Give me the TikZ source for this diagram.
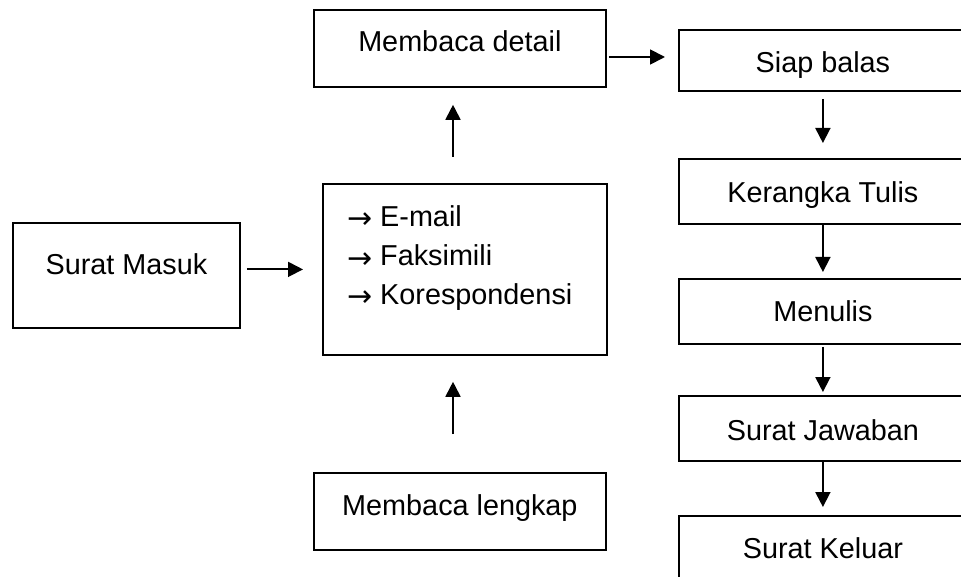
\documentclass[tikz,border=0pt]{standalone}
\usepackage{fontspec}
\setmainfont{Liberation Sans}
\newfontfamily\arrowfont{DejaVu Sans}
\usetikzlibrary{arrows.meta,calc}

% list marker: arrow glyph in a fixed-width slot
\newcommand{\bulletarrow}{\makebox[33pt][l]{\raisebox{-2pt}{\arrowfont\fontsize{30}{39}\selectfont →}}}

\tikzset{
  box/.style={draw=black, line width=1.8pt, rectangle, inner sep=0pt, anchor=north west},
  txt/.style={inner sep=0pt, anchor=base, font=\fontsize{28.8}{39}\selectfont},
  ltxt/.style={txt, anchor=base west},
  arr/.style={draw=black, line width=1.8pt, -{Triangle[length=15pt,width=15pt]}}
}

\begin{document}
\begin{tikzpicture}[x=1pt, y=-1pt]
  \clip (0,0) rectangle (961,577);
  \fill[white] (0,0) rectangle (961,577);

  % left and middle column
  \node[box, minimum width=227pt, minimum height=105pt] (masuk)   at (12,222) {};
  \node[box, minimum width=284pt, minimum height=171pt] (mid)     at (322,183) {};
  \node[box, minimum width=292pt, minimum height=77pt]  (detail)  at (313,9) {};
  \node[box, minimum width=292pt, minimum height=77pt]  (lengkap) at (313,472) {};

  \node[txt] at ([yshift=-53pt]masuk.north)   {Surat Masuk};
  \node[txt] at ([yshift=-43pt]detail.north)  {Membaca detail};
  \node[txt] at ([yshift=-43pt]lengkap.north) {Membaca lengkap};
  \node[ltxt] (l1) at (347,227) {\bulletarrow E-mail};
  \node[ltxt] (l2) at (347,266) {\bulletarrow Faksimili};
  \node[ltxt] (l3) at (347,305) {\bulletarrow Korespondensi};

  % right column
  \node[box, minimum width=288pt, minimum height=61pt] (siap)    at (678,29) {};
  \node[box, minimum width=288pt, minimum height=65pt] (kerangka) at (678,158) {};
  \node[box, minimum width=288pt, minimum height=65pt] (menulis) at (678,278) {};
  \node[box, minimum width=288pt, minimum height=65pt] (jawaban) at (678,395) {};
  \node[box, minimum width=288pt, minimum height=65pt] (keluar)  at (678,515) {};

  \node[txt] at ([yshift=-44pt]siap.north)     {Siap balas};
  \node[txt] at ([yshift=-45pt]kerangka.north) {Kerangka Tulis};
  \node[txt] at ([yshift=-44pt]menulis.north)  {Menulis};
  \node[txt] at ([yshift=-45pt]jawaban.north)  {Surat Jawaban};
  \node[txt] at ([yshift=-43pt]keluar.north)   {Surat Keluar};

  % connectors
  \coordinate (ux) at (453,0);
  \coordinate (hy) at (0,57);
  \draw[arr, shorten <=6pt, shorten >=19pt] (masuk.east |- mid.west) -- (mid.west);
  \draw[arr, shorten <=26pt, shorten >=17pt] (ux |- mid.north) -- (ux |- detail.south);
  \draw[arr, shorten <=38pt, shorten >=26pt] (ux |- lengkap.north) -- (ux |- mid.south);
  \draw[arr, shorten <=2pt, shorten >=13pt] (detail.east |- hy) -- (siap.west |- hy);
  \draw[arr, shorten <=7pt, shorten >=15pt] (siap.south) -- (kerangka.north);
  \draw[arr, shorten <=0pt, shorten >=6pt] (kerangka.south) -- (menulis.north);
  \draw[arr, shorten <=2pt, shorten >=3pt] (menulis.south) -- (jawaban.north);
  \draw[arr, shorten <=0pt, shorten >=8pt] (jawaban.south) -- (keluar.north);
\end{tikzpicture}
\end{document}
